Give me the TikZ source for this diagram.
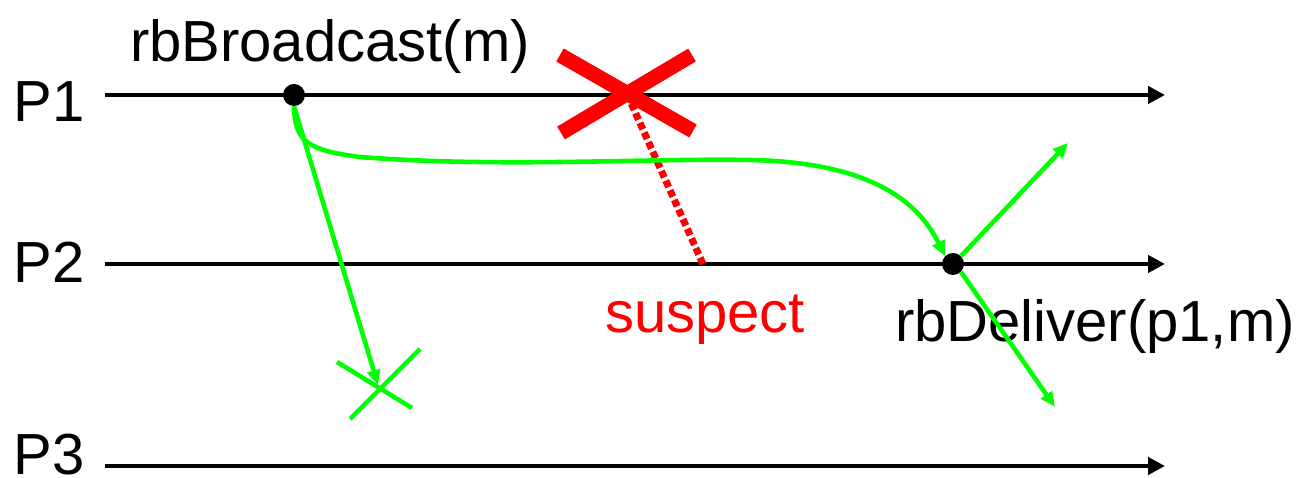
\documentclass[tikz,border=0pt]{standalone}
\usepackage{fontspec}
\setmainfont{Liberation Sans}
\usepackage{tikz}
\usetikzlibrary{arrows.meta}
\definecolor{msggreen}{RGB}{0,255,0}
\definecolor{crashred}{RGB}{255,0,0}

\begin{document}
\begin{tikzpicture}[font=\fontsize{33}{40}\selectfont,
  proc/.style={line width=2.6pt, -{Triangle[length=0.34cm, width=0.34cm]}},
  msg/.style={line width=2.6pt, msggreen, -{Triangle[length=0.3cm, width=0.26cm]}},
  evt/.style={circle, fill=black, inner sep=0pt, minimum size=0.44cm}]
  \useasboundingbox (0,0) rectangle (26,9.56);
  % process lines
  \foreach \p/\y/\b in {1/7.66/7.12, 2/4.28/3.9, 3/0.24/0.06} {
    \coordinate (s\p) at (2.1,\y);
    \coordinate (e\p) at (23.3,\y);
    \draw[proc] (s\p) -- (e\p);
    \node[anchor=base west, inner sep=0pt] (lbl\p) at (0.26,\b) {P\p};
  }
  % crash of P1 and suspicion at P2
  \coordinate (crash) at (12.54,7.68);
  \coordinate (susp) at (14.06,4.28);
  \draw[crashred, line width=4pt, dotted] (crash) -- (susp);
  \draw[crashred, line width=8.5pt] (11.2,8.46) -- (13.86,6.94)
                                    (11.22,6.9) -- (13.84,8.46);
  \node[crashred, anchor=base] (susplbl) at (14.1,2.9) {suspect};
  % broadcast and delivery
  \node[evt] (bcast) at (5.88,7.66) {};
  \node[anchor=base] (bcastlbl) at (6.6,8.32) {rbBroadcast(m)};
  \node[evt] (dlv) at (19.06,4.28) {};
  \node[anchor=base] (dlvlbl) at (21.9,2.72) {rbDeliver(p1,m)};
  % lost message to P3
  \coordinate (lost) at (7.6,1.78);
  \draw[msg] (bcast.south) -- (7.56,1.86);
  \draw[msggreen, line width=2.6pt] (6.74,2.32) -- (8.24,1.4)
                                    (8.4,2.58) -- (7.0,1.18);
  % message to P2 and relay
  \draw[msg] (bcast.south) .. controls (5.9,6.76) and (6.1,6.56) .. (7.2,6.42)
    .. controls (10,6.2) and (13,6.4) .. (15,6.36)
    .. controls (17.2,6.32) and (18.3,5.66) .. (dlv.north west);
  \coordinate (fwdup) at (21.36,6.7);
  \coordinate (fwddn) at (21.1,1.42);
  \draw[msg] (dlv.north east) -- (fwdup);
  \draw[msg] (dlv.south east) -- (fwddn);
\end{tikzpicture}
\end{document}
